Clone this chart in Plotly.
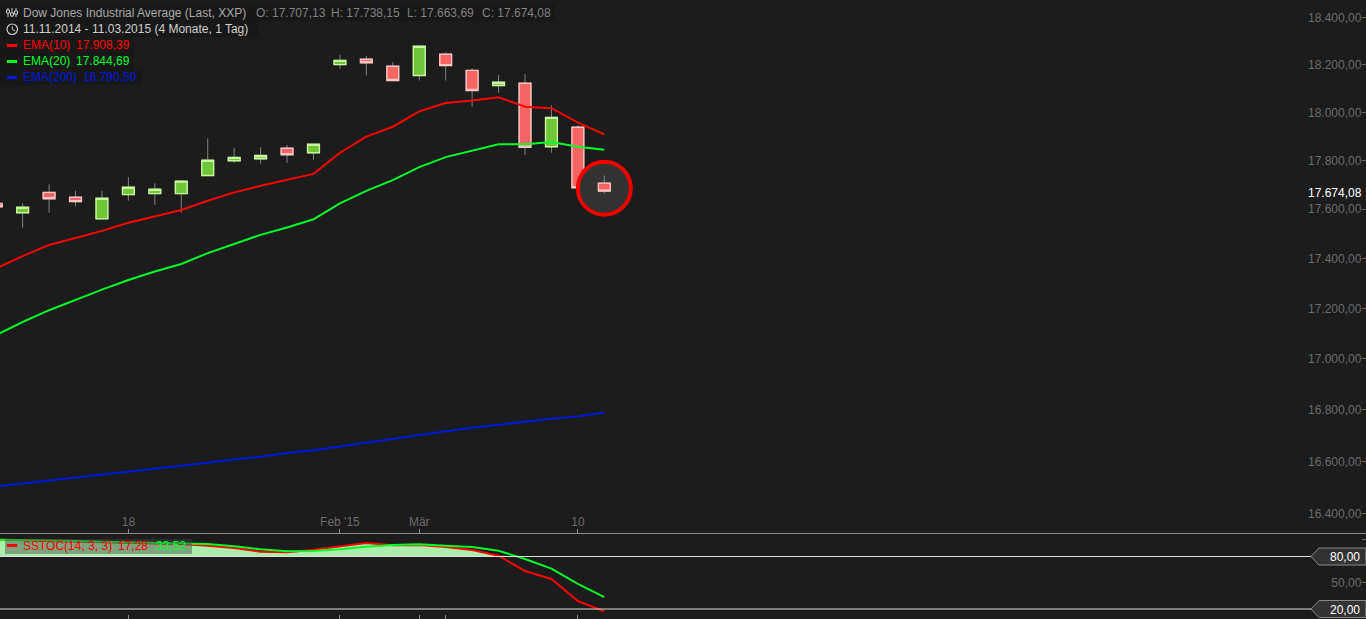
import math
import plotly.graph_objects as go

# ---------- data ----------
opens  = [17624,17586,17669,17649,17561,17660,17664,17664,17738,17799,17807,17851,17832,
          18200,18223,18193,18154,18244,18176,18112,18122,17857,17938,17707.13]
highs  = [17628,17624,17702,17675,17675,17732,17706,17720,17892,17852,17855,17864,17868,
          18241,18237,18210,18279,18252,18185,18157,18161,18030,17947,17738.15]
lows   = [17606,17525,17586,17612,17561,17635,17618,17586,17738,17791,17787,17791,17803,
          18182,18154,18133,18133,18133,18024,18082,17824,17832,17688,17663.69]
closes = [17610,17608,17643,17631,17645,17690,17682,17715,17801,17813,17821,17824,17867,
          18218,18208,18133,18278,18196,18091,18126,17855,17979,17688,17674.08]
ema10  = [17360,17410,17455,17483,17512,17545,17572,17597,17635,17669,17696,17720,17745,
          17832,17899,17940,18004,18039,18049,18063,18023,18017,17957,17908.39]
ema20  = [17094,17146,17193,17235,17275,17314,17348,17378,17422,17459,17496,17526,17559,
          17624,17675,17719,17773,17814,17840,17867,17867,17877,17857,17844.69]
ema200 = [16505,16516,16528,16539,16550,16562,16573,16585,16596,16608,16619,16633,16644,
          16658,16673,16689,16704,16717,16731,16743,16754,16766,16775,16790.50]
stoch_k = [99.2,98.9,97.7,97.1,96.6,95.4,94.9,94.3,92.3,89.7,85.5,84.8,87.8,91.7,95.4,92.8,
           93.1,90.9,87.4,80.9,63.4,54.3,29.1,17.28]
stoch_d = [99.1,98.9,98.5,97.7,96.9,96.2,95.7,95.1,94.3,91.7,88.2,85.9,86.3,88.2,91.2,93.1,
           93.9,92.3,90.9,86.6,77.1,66.1,48.6,33.52]
price_ticks = [18400,18200,18000,17800,17600,17400,17200,17000,16800,16600,16400]
price_labels = ["18.400,00","18.200,00","18.000,00","17.800,00","17.600,00","17.400,00",
                "17.200,00","17.000,00","16.800,00","16.600,00","16.400,00"]
date_tick_idx = [0.16,5,13,16,22]
date_tick_labels = ["1","18","Feb '15","Mär","10"]
lower_tick_idx = [5,13,16,17,22]
stoch_ticks = [100,50]
stoch_labels = ["100,00","50,00"]

# ---------- geometry / style ----------
W, H = 1366, 619
BG = "#1c1c1c"
FONT = "Liberation Sans"
GRAY = "#6a6a6a"
xs = list(range(len(closes)))
x_range = [3.8/26.44, (1366+3.8)/26.44]
y_top = 18400*math.exp(17.5/4314)
y_bot = 18400*math.exp(-515.5/4314)

def px(x): return x/W
def py(y): return 1-y/H

fig = go.Figure()

def candle(idx, xa, ya):
    x = [xs[i] for i in idx]
    o = [opens[i] for i in idx]; c = [closes[i] for i in idx]
    hi = [highs[i] for i in idx]; lo = [lows[i] for i in idx]
    wick = dict(line=dict(color="#808080", width=1), fillcolor="#808080")
    fig.add_trace(go.Candlestick(x=x, open=o, high=hi, low=lo, close=c, whiskerwidth=0,
                                 increasing=wick, decreasing=wick, xaxis=xa, yaxis=ya, showlegend=False))
    fig.add_trace(go.Candlestick(x=x, open=o, close=c,
                                 high=[max(a,b) for a,b in zip(o,c)],
                                 low=[min(a,b) for a,b in zip(o,c)], whiskerwidth=0,
                                 increasing=dict(line=dict(color="#c9f7a0", width=1.4), fillcolor="#6fc738"),
                                 decreasing=dict(line=dict(color="#ffc4c4", width=1.4), fillcolor="#f76464"),
                                 xaxis=xa, yaxis=ya, showlegend=False))

candle(xs[:-1], "x", "y")
for s, col in ((ema200, "#0018e0"), (ema20, "#00ff2a"), (ema10, "#ff0000")):
    fig.add_trace(go.Scatter(x=xs, y=s, mode="lines", line=dict(color=col, width=2), showlegend=False))
# highlight around the last candle
fig.add_trace(go.Scatter(x=[xs[-1]], y=[closes[-1]+12], mode="markers", showlegend=False,
                         marker=dict(size=53, color="#333333", line=dict(color="#f20000", width=4))))
candle(xs[-1:], "x3", "y3")

# stochastic panel
fig.add_trace(go.Scatter(x=xs, y=[80]*len(xs), mode="lines", line=dict(width=0), xaxis="x2", yaxis="y2", showlegend=False))
fig.add_trace(go.Scatter(x=xs, y=[max(v,80) for v in stoch_k], mode="lines", line=dict(width=0),
                         fill="tonexty", fillcolor="#abedab", xaxis="x2", yaxis="y2", showlegend=False))
fig.add_trace(go.Scatter(x=xs, y=stoch_k, mode="lines", line=dict(color="#ff0000", width=2), xaxis="x2", yaxis="y2", showlegend=False))
fig.add_trace(go.Scatter(x=xs, y=stoch_d, mode="lines", line=dict(color="#00ff2a", width=2), xaxis="x2", yaxis="y2", showlegend=False))

# ---------- decoration ----------
shapes = []
def band(x0, y0, x1, y1, col="#181818", layer="above"):
    shapes.append(dict(type="rect", xref="paper", yref="paper", x0=px(x0), x1=px(x1), y0=py(y1), y1=py(y0),
                       fillcolor=col, line=dict(width=0), layer=layer))
band(0,5,555,21); band(0,21,259,37); band(0,37,134,69); band(0,69,142,85)
band(5,539,192,554,"rgba(70,70,70,0.45)")
for y,c in ((45.5,"#ff0000"),(61.5,"#00ff2a"),(77.5,"#0018e0")):
    band(7,y-1.5,17,y+1.5,c)
band(7,544,17,547,"#ff0000")

def seg(x0,y0,x1,y1,col="#c8c8c8",w=1):
    shapes.append(dict(type="line",xref="paper",yref="paper",x0=px(x0),x1=px(x1),y0=py(y0),y1=py(y1),
                       line=dict(color=col,width=w),layer="above"))
# bars icon
for x,(a,b),(c,d) in ((8,(8,17),(10,13)),(12,(8,17),(13,16)),(16,(8,17),(11,14))):
    seg(x,a,x,b)
    shapes.append(dict(type="rect",xref="paper",yref="paper",x0=px(x-1.5),x1=px(x+1.5),y0=py(d),y1=py(c),
                       fillcolor=BG,line=dict(color="#c8c8c8",width=1),layer="above"))
# clock icon
shapes.append(dict(type="circle",xref="paper",yref="paper",x0=px(7),x1=px(17.5),y0=py(34.5),y1=py(24),
                   line=dict(color="#d0d0d0",width=1.2),layer="above"))
seg(12.3,26.5,12.3,29.5); seg(12.3,29.5,15,31)
# 80 / 20 reference lines
for v in (80,20):
    shapes.append(dict(type="line",xref="paper",yref="y2",x0=0,x1=px(1312),y0=v,y1=v,
                       line=dict(color="#dddddd",width=1),layer="above"))

def tag(width, yref, anchor):
    path = f"M 0 -8.5 L {-width+8} -8.5 L {-width} 0 L {-width+8} 8.5 L 0 8.5 Z"
    shapes.append(dict(type="path",xref="paper",yref=yref,xsizemode="pixel",ysizemode="pixel",
                       xanchor=1,yanchor=anchor,path=path,fillcolor="#333333",
                       line=dict(color="#8a8a8a",width=1),layer="above"))
tag(72,"y",math.log10(closes[-1])); tag(55,"y2",80); tag(55,"y2",20)

ann = []
def text(x,y,s,col,anchor="left",size=12,xr="paper",yr="paper"):
    ann.append(dict(x=px(x),y=py(y),text=s,xref="paper",yref="paper",showarrow=False,xanchor=anchor,
                    yanchor="middle",align=anchor,font=dict(family=FONT,size=size,color=col),
                    borderpad=0,borderwidth=0))
text(23,13,"Dow Jones Industrial Average (Last, XXP)","#a8a8a8")
text(256,13,"O: 17.707,13","#808080"); text(331,13,"H: 17.738,15","#808080")
text(407,13,"L: 17.663,69","#808080"); text(482,13,"C: 17.674,08","#808080")
text(23,29,"11.11.2014 - 11.03.2015 (4 Monate, 1 Tag)","#d0d0d0")
text(23,45,"EMA(10)","#ff0000"); text(75.5,45,"17.908,39","#ff0000")
text(23,61,"EMA(20)","#00ff2a"); text(75.5,61,"17.844,69","#00ff2a")
text(23,77,"EMA(200)","#0018e0"); text(82.5,77,"16.790,50","#0018e0")
text(23,546,"SSTOC(14, 3, 3)","#ff0000"); text(118,546,"17,28","#ff0000"); text(155.5,546,"33,52","#00ff2a")
text(1362,192.5,"17.674,08","#ffffff","right")
text(1360,557,"80,00","#ffffff","right"); text(1360,610,"20,00","#ffffff","right")

common_x = dict(range=x_range, showgrid=False, zeroline=False, showline=True, linecolor="#8a8a8a",
                linewidth=1, ticks="inside", ticklen=4, tickcolor="#8a8a8a", rangeslider=dict(visible=False),
                fixedrange=True)
log_range = [math.log10(y_bot), math.log10(y_top)]
fig.update_layout(
    width=W, height=H, margin=dict(l=0,r=0,t=0,b=0), paper_bgcolor=BG, plot_bgcolor=BG,
    showlegend=False, boxgap=0.36, boxmode="overlay", shapes=shapes, annotations=ann,
    font=dict(family=FONT,size=12,color=GRAY),
    xaxis=dict(**common_x, domain=[0,1], anchor="y", tickmode="array", tickvals=date_tick_idx,
               ticktext=date_tick_labels, ticklabelposition="inside",
               tickfont=dict(family=FONT,size=12,color=GRAY)),
    yaxis=dict(type="log", domain=[86/619,1], range=log_range, side="right", anchor="x", tickmode="array",
               tickvals=price_ticks, ticktext=price_labels, ticklabelposition="inside", ticks="inside",
               ticklen=4, tickcolor=GRAY, showgrid=False, zeroline=False, showline=False,
               tickfont=dict(family=FONT,size=12,color=GRAY)),
    xaxis2=dict(**common_x, domain=[0,1], anchor="y2", tickmode="array", tickvals=lower_tick_idx,
                showticklabels=False),
    yaxis2=dict(domain=[0,86/619], range=[8.57,106.86], side="right", anchor="x2", tickmode="array",
                tickvals=stoch_ticks, ticktext=stoch_labels, ticklabelposition="inside", ticks="inside",
                ticklen=4, tickcolor=GRAY, showgrid=False, zeroline=False, showline=False,
                tickfont=dict(family=FONT,size=12,color=GRAY)),
    xaxis3=dict(range=x_range, overlaying="x", visible=False, anchor="y3", rangeslider=dict(visible=False)),
    yaxis3=dict(type="log", range=log_range, overlaying="y", visible=False, anchor="x3", side="right"),
)
fig.write_html("out.html", config=dict(displayModeBar=False),
               post_script="document.body.style.margin='0';document.body.style.overflow='hidden';")
